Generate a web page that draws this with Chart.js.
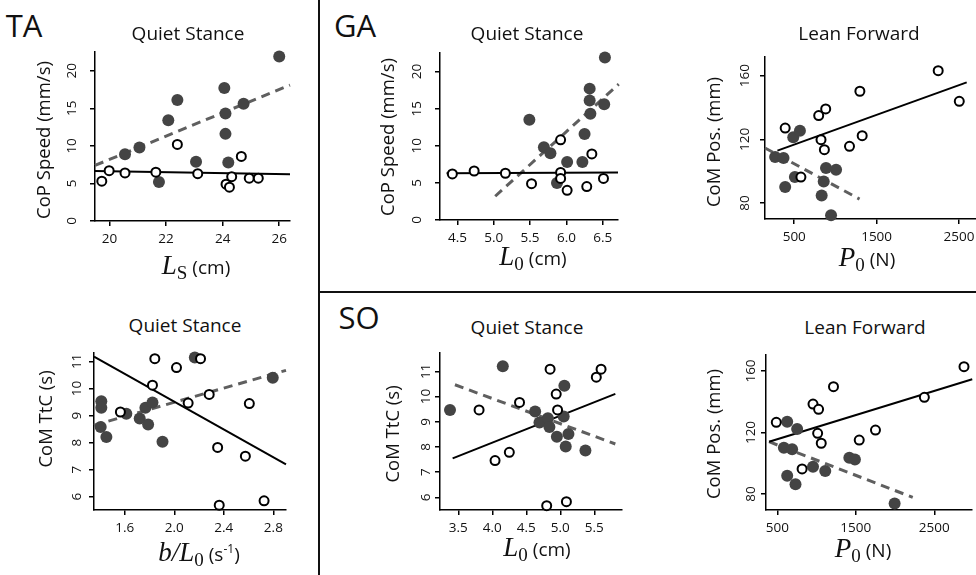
<!DOCTYPE html>
<html>
<head>
<meta charset="utf-8">
<script src="https://cdn.jsdelivr.net/npm/chart.js@4/dist/chart.umd.min.js"></script>
<style>
body{margin:0;width:976px;height:575px;background:#fff;position:relative;overflow:hidden;font-family:'Open Sans',sans-serif;color:#111;}
.t{position:absolute;transform:translate(-50%,-50%);white-space:nowrap;line-height:1;font-size:19px;}
.big{font-size:31px;}
.yt{transform:translate(-50%,-50%) rotate(-90deg);font-size:18.5px;}
.m{font-family:'Liberation Serif','DejaVu Serif',serif;font-style:italic;font-size:27px;}
.sb{font-family:'Liberation Serif','DejaVu Serif',serif;font-size:19px;position:relative;top:5px;margin-right:5px;}
.rule{position:absolute;background:#111;}
</style>
</head>
<body>
<script>
// ---- TA, quiet stance: CoP speed vs L_S ----
var taLsXTicks=[20,22,24,26];
var taLsYTicks=[0,5,10,15,20];
var taLsOpen=[[19.73,5.3],[19.99,6.7],[20.55,6.4],[21.64,6.5],[22.4,10.2],[23.12,6.3],[24.12,4.9],[24.24,4.5],[24.32,5.9],[24.66,8.6],[24.94,5.7],[25.26,5.7]];
var taLsFilled=[[26.0,21.9],[24.06,17.7],[22.4,16.1],[22.08,13.4],[24.1,14.3],[24.74,15.6],[24.1,11.6],[21.06,9.8],[20.55,8.9],[23.06,7.9],[24.2,7.8],[21.75,5.2]];
var taLsSolid=[[19.49,6.66],[26.38,6.22]];
var taLsDashed=[[19.49,7.4],[26.38,18.1]];

// ---- TA, quiet stance: CoM TtC vs b/L0 ----
var taBXTicks=[1.6,2.0,2.4,2.8];
var taBYTicks=[6,7,8,9,10,11];
var taBOpen=[[1.843,11.1],[2.018,10.77],[2.212,11.1],[1.824,10.12],[1.565,9.13],[2.112,9.46],[2.282,9.78],[2.606,9.44],[2.35,7.82],[2.574,7.5],[2.363,5.69],[2.725,5.85]];
var taBFilled=[[2.166,11.14],[2.795,10.4],[1.411,9.53],[1.411,9.29],[1.406,8.58],[1.452,8.21],[1.613,9.07],[1.721,8.89],[1.767,9.29],[1.824,9.48],[1.789,8.67],[1.905,8.03]];
var taBSolid=[[1.352,11.18],[2.902,7.2]];
var taBDashed=[[1.352,8.64],[2.902,10.67]];

// ---- GA, quiet stance: CoP speed vs L0 ----
var gaQXTicks=[4.5,5.0,5.5,6.0,6.5];
var gaQYTicks=[0,5,10,15,20];
var gaQOpen=[[4.43,6.2],[4.73,6.6],[5.16,6.3],[5.52,4.9],[5.92,10.8],[5.92,6.4],[5.92,5.6],[6.01,4.0],[6.28,4.5],[6.35,8.9],[6.51,5.6]];
var gaQFilled=[[6.53,21.9],[6.32,17.7],[6.32,16.1],[6.52,15.6],[6.33,14.3],[5.49,13.5],[6.25,11.6],[5.69,9.8],[5.78,9.0],[6.01,7.8],[6.22,7.8],[5.87,5.0]];
var gaQSolid=[[4.35,6.3],[6.71,6.4]];
var gaQDashed=[[5.02,3.2],[6.72,18.3]];

// ---- GA, lean forward: CoM pos vs P0 ----
var gaLXTicks=[500,1500,2500];
var gaLYTicks=[80,120,160];
var gaLOpen=[[2248,163.1],[2504,143.9],[1297,150.2],[882,139.1],[797,134.9],[390,127.1],[825,119.8],[866,113.5],[1325,122.3],[1171,115.6],[581,96.3]];
var gaLFilled=[[268,108.9],[370,108.3],[488,121.3],[569,125.4],[390,90.1],[508,96.3],[886,102.0],[1008,100.9],[858,93.6],[833,84.8],[947,72.3]];
var gaLSolid=[[296,112.9],[2594,155.8]];
var gaLDashed=[[145,114.6],[1293,82.5]];

// ---- SO, quiet stance: CoM TtC vs L0 ----
var soQXTicks=[3.5,4.0,4.5,5.0,5.5];
var soQYTicks=[6,7,8,9,10,11];
var soQOpen=[[4.85,11.09],[5.53,10.77],[5.6,11.09],[4.94,10.1],[4.4,9.77],[3.805,9.47],[4.96,9.47],[4.04,7.46],[4.25,7.79],[4.8,5.67],[5.09,5.83]];
var soQFilled=[[4.154,11.2],[3.377,9.47],[4.63,9.41],[4.694,8.97],[4.817,9.14],[4.84,8.79],[5.05,9.21],[5.06,10.43],[4.95,8.41],[5.12,8.52],[5.08,8.02],[5.37,7.86]];
var soQSolid=[[3.416,7.55],[5.81,10.11]];
var soQDashed=[[3.45,10.47],[5.81,8.12]];

// ---- SO, lean forward: CoM pos vs P0 ----
var soLXTicks=[500,1500,2500];
var soLYTicks=[80,120,160];
var soLOpen=[[2879,162.8],[2374,142.9],[1216,149.8],[955,138.5],[1026,135.1],[487,126.6],[1014,119.5],[1060,113.0],[1544,115.1],[1751,121.6],[816,96.3]];
var soLFilled=[[626,127.0],[753,122.3],[584,110.1],[689,109.1],[626,91.9],[732,86.3],[955,97.8],[1111,95.0],[1418,103.6],[1489,102.5],[1995,73.9]];
var soLSolid=[[395,114.0],[2984,154.6]];
var soLDashed=[[395,114.0],[2226,77.8]];

var FONT="'Open Sans', sans-serif";
var TICK_SIZE=13.5;
var PAD_L=44,PAD_T=10,PAD_R=10,PAD_B=34;

function pts(a){return a.map(function(p){return {x:p[0],y:p[1]};});}

// y tick labels are rotated like R's default, centred on the tick
var rotYLabels={
    id:'rotYLabels',
    afterDraw:function(chart,args,opts){
        var s=chart.scales.y, ctx=chart.ctx;
        ctx.save();
        ctx.font=TICK_SIZE+'px '+FONT;
        ctx.fillStyle='#111';
        ctx.textAlign='center';
        ctx.textBaseline='middle';
        s.ticks.forEach(function(t){
            var y=s.getPixelForValue(t.value);
            ctx.save();
            ctx.translate(s.right-opts.offset,y);
            ctx.rotate(-Math.PI/2);
            ctx.fillText(String(t.value),0,0);
            ctx.restore();
        });
        ctx.restore();
    }
};

function panel(c){
    var b=c.box;
    var w=b[2]-b[0]+PAD_L+PAD_R, h=b[3]-b[1]+PAD_T+PAD_B;
    var cv=document.createElement('canvas');
    cv.width=w; cv.height=h;
    cv.style.cssText='position:absolute;left:'+(b[0]-PAD_L)+'px;top:'+(b[1]-PAD_T)+'px;width:'+w+'px;height:'+h+'px';
    document.body.appendChild(cv);
    var grid={display:true,drawOnChartArea:false,drawTicks:true,tickLength:5,color:'#000',lineWidth:1.5};
    var border={display:true,color:'#000',width:1.5};
    new Chart(cv.getContext('2d'),{
        type:'scatter',
        data:{datasets:[
            {type:'line',data:pts(c.dashed),borderColor:'#5f5f5f',borderWidth:3,borderDash:[9,6],pointRadius:0,fill:false,order:4,clip:false},
            {type:'line',data:pts(c.solid),borderColor:'#000',borderWidth:2,pointRadius:0,fill:false,order:3,clip:false},
            {data:pts(c.filled),backgroundColor:'#444',borderColor:'#444',borderWidth:0,pointRadius:6,order:2,clip:false},
            {data:pts(c.open),backgroundColor:'#fff',borderColor:'#000',borderWidth:2,pointRadius:4.5,order:1,clip:false}
        ]},
        options:{
            responsive:false,animation:false,events:[],
            layout:{autoPadding:false,padding:{left:0,top:PAD_T,right:PAD_R,bottom:0}},
            plugins:{legend:{display:false},tooltip:{enabled:false},rotYLabels:{offset:c.yOff}},
            scales:{
                x:{type:'linear',position:'bottom',min:c.xr[0],max:c.xr[1],bounds:'data',
                    afterBuildTicks:function(s){s.ticks=c.xt.map(function(v){return {value:v};});},
                    afterFit:function(s){s.height=PAD_B;},
                    ticks:{color:'#111',font:{family:FONT,size:TICK_SIZE},padding:5,maxRotation:0,autoSkip:false,
                        callback:function(v){return v.toFixed(c.xd);}},
                    grid:grid,border:border},
                y:{type:'linear',position:'left',min:c.yr[0],max:c.yr[1],bounds:'data',
                    afterBuildTicks:function(s){s.ticks=c.yt.map(function(v){return {value:v};});},
                    afterFit:function(s){s.width=PAD_L;},
                    ticks:{display:false},
                    grid:grid,border:border}
            }
        },
        plugins:[rotYLabels]
    });
}

panel({box:[95,52,290,221],xr:[19.49,26.38],yr:[0,22.5],xt:taLsXTicks,yt:taLsYTicks,xd:0,yOff:23,
    open:taLsOpen,filled:taLsFilled,solid:taLsSolid,dashed:taLsDashed});
panel({box:[94,353,286,510],xr:[1.352,2.902],yr:[5.51,11.31],xt:taBXTicks,yt:taBYTicks,xd:1,yOff:17,
    open:taBOpen,filled:taBFilled,solid:taBSolid,dashed:taBDashed});
panel({box:[440,53,618,220],xr:[4.26,6.71],yr:[0,22.5],xt:gaQXTicks,yt:gaQYTicks,xd:1,yOff:23,
    open:gaQOpen,filled:gaQFilled,solid:gaQSolid,dashed:gaQDashed});
panel({box:[765,57,976,219],xr:[145,2707],yr:[70,171.7],xt:gaLXTicks,yt:gaLYTicks,xd:0,yOff:19.5,
    open:gaLOpen,filled:gaLFilled,solid:gaLSolid,dashed:gaLDashed});
panel({box:[440,353,622,510],xr:[3.23,5.908],yr:[5.5,11.73],xt:soQXTicks,yt:soQYTicks,xd:1,yOff:14,
    open:soQOpen,filled:soQFilled,solid:soQSolid,dashed:soQDashed});
panel({box:[766,355,972,510],xr:[356,2981],yr:[69.6,170.4],xt:soLXTicks,yt:soLYTicks,xd:0,yOff:15,
    open:soLOpen,filled:soLFilled,solid:soLSolid,dashed:soLDashed});
</script>

<div class="rule" style="left:318px;top:0;width:2px;height:575px"></div>
<div class="rule" style="left:319px;top:291px;width:657px;height:2px"></div>

<div class="t big" style="left:24px;top:25px">TA</div>
<div class="t big" style="left:355px;top:25px">GA</div>
<div class="t big" style="left:359px;top:317px">SO</div>

<div class="t" style="left:188px;top:33px">Quiet Stance</div>
<div class="t" style="left:527px;top:33px">Quiet Stance</div>
<div class="t" style="left:859px;top:33px">Lean Forward</div>
<div class="t" style="left:185px;top:325px">Quiet Stance</div>
<div class="t" style="left:527px;top:327px">Quiet Stance</div>
<div class="t" style="left:865px;top:327px">Lean Forward</div>

<div class="t yt" style="left:43px;top:140px">CoP Speed (mm/s)</div>
<div class="t yt" style="left:387px;top:137px">CoP Speed (mm/s)</div>
<div class="t yt" style="left:713px;top:142px">CoM Pos. (mm)</div>
<div class="t yt" style="left:45px;top:419px">CoM TtC (s)</div>
<div class="t yt" style="left:392px;top:434px">CoM TtC (s)</div>
<div class="t yt" style="left:713px;top:434px">CoM Pos. (mm)</div>

<div class="t" style="left:196px;top:265px"><span class="m">L</span><span class="sb">S</span>(cm)</div>
<div class="t" style="left:533px;top:256px"><span class="m">L</span><span class="sb">0</span>(cm)</div>
<div class="t" style="left:867px;top:257px"><span class="m">P</span><span class="sb">0</span>(N)</div>
<div class="t" style="left:199px;top:552px"><span class="m">b/L</span><span class="sb">0</span>(s<sup style="font-size:12px">-1</sup>)</div>
<div class="t" style="left:537px;top:547px"><span class="m">L</span><span class="sb">0</span>(cm)</div>
<div class="t" style="left:863px;top:548px"><span class="m">P</span><span class="sb">0</span>(N)</div>
</body>
</html>
